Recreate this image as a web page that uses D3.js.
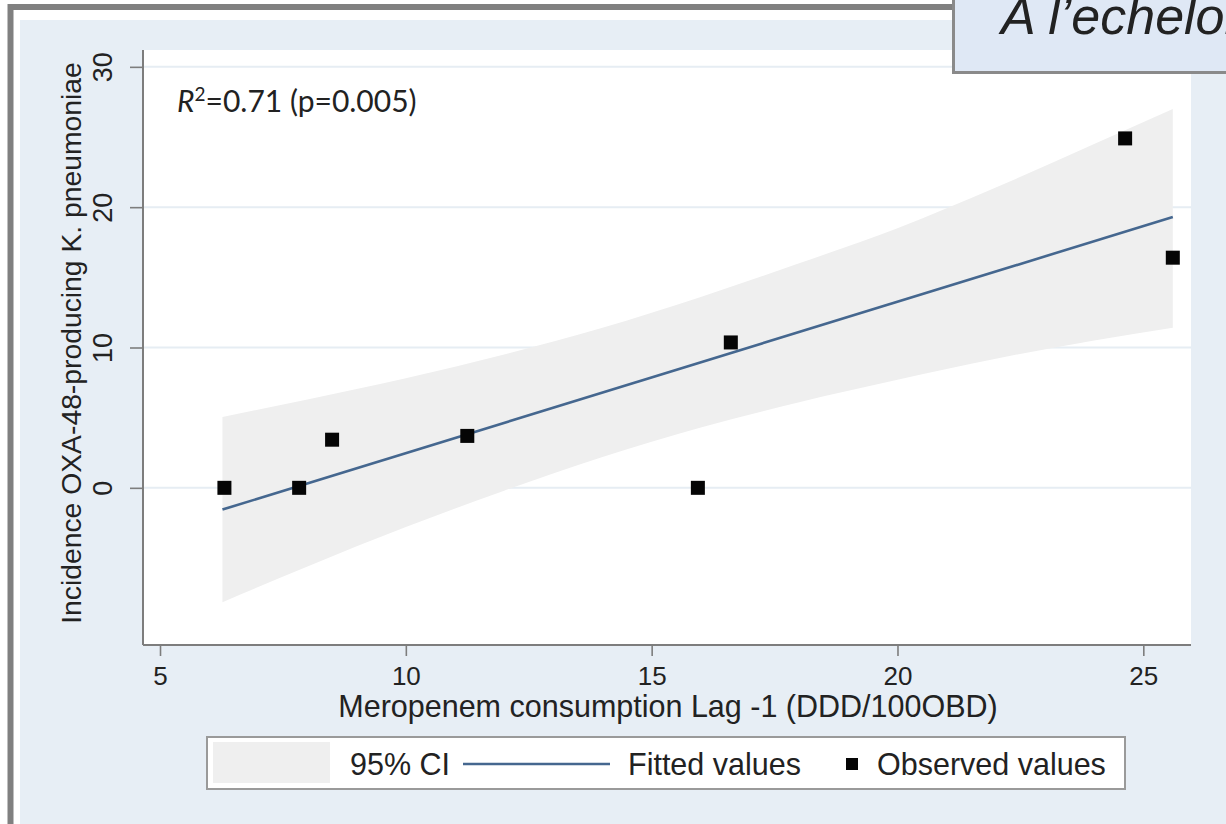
<!DOCTYPE html>
<html>
<head>
<meta charset="utf-8">
<script src="https://cdn.jsdelivr.net/npm/d3@7"></script>
<style>
  html, body { margin: 0; padding: 0; background: #ffffff; }
  svg { display: block; }
  text { font-family: "Liberation Sans", Arial, Helvetica, sans-serif; fill: #222222; }
</style>
</head>
<body>
<svg id="chart" width="1226" height="824"></svg>
<script>
// Observed values: meropenem consumption (lag -1) vs incidence
const consumption = [6.31, 7.83, 8.50, 11.25, 15.94, 16.61, 24.63, 25.60];
const incidence   = [0.0, 0.0, 3.43, 3.70, 0.0, 10.36, 24.9, 16.4];

// Fitted regression line (end points over the observed range)
const fitX = [6.27, 25.60];
const fitY = [-1.55, 19.30];

// 95% confidence band of the fit
const bandX     = [6.27, 8, 10, 12, 14, 16, 18, 20, 22, 24, 25.60];
const bandUpper = [5.05, 6.3, 7.8, 9.5, 11.4, 13.6, 16.0, 18.5, 21.4, 24.5, 27.0];
const bandLower = [-8.15, -5.6, -2.8, -0.2, 2.2, 4.3, 6.1, 7.7, 9.2, 10.5, 11.4];

// Axis ticks and labels
const xTicks = [5, 10, 15, 20, 25];
const yTicks = [0, 10, 20, 30];
const xTitle = "Meropenem consumption Lag -1 (DDD/100OBD)";
const yTitle = "Incidence OXA-48-producing K. pneumoniae";
const legendLabels = ["95% CI", "Fitted values", "Observed values"];
const headerText = "A l\u2019echelon";

const svg = d3.select("#chart");

// Slide frame and graph region
svg.append("rect").attr("x", 10.5).attr("y", 7).attr("width", 1300).attr("height", 900)
  .attr("fill", "#ffffff").attr("stroke", "#808080").attr("stroke-width", 6);
svg.append("rect").attr("x", 20).attr("y", 20).attr("width", 1230).attr("height", 820)
  .attr("fill", "#e7eef5");

// Plot region
const plot = { left: 143, right: 1191, top: 50, bottom: 645 };
svg.append("rect").attr("x", plot.left).attr("y", plot.top)
  .attr("width", plot.right - plot.left).attr("height", plot.bottom - plot.top)
  .attr("fill", "#ffffff");

const x = d3.scaleLinear().domain([4.654, 25.97]).range([plot.left, plot.right]);
const y = d3.scaleLinear().domain([-11.2, 31.2]).range([plot.bottom, plot.top]);

// Gridlines
svg.append("g").selectAll("line").data(yTicks).join("line")
  .attr("x1", plot.left).attr("x2", plot.right)
  .attr("y1", d => y(d)).attr("y2", d => y(d))
  .attr("stroke", "#e6edf3").attr("stroke-width", 2);

// Confidence band
const band = bandX.map((v, i) => ({ x: v, lo: bandLower[i], hi: bandUpper[i] }));
svg.append("path").datum(band)
  .attr("d", d3.area().curve(d3.curveMonotoneX)
    .x(d => x(d.x)).y0(d => y(d.lo)).y1(d => y(d.hi)))
  .attr("fill", "#efefef");

// Fitted line
svg.append("path").datum(fitX.map((v, i) => [v, fitY[i]]))
  .attr("d", d3.line().x(d => x(d[0])).y(d => y(d[1])))
  .attr("fill", "none").attr("stroke", "#45678f").attr("stroke-width", 2.6);

// Observed points
const sq = 14;
svg.append("g").selectAll("rect").data(consumption.map((v, i) => [v, incidence[i]])).join("rect")
  .attr("x", d => x(d[0]) - sq / 2).attr("y", d => y(d[1]) - sq / 2)
  .attr("width", sq).attr("height", sq).attr("fill", "#050505");

// Y axis
const yAxis = svg.append("g").attr("transform", `translate(${plot.left},0)`)
  .call(d3.axisLeft(y).tickValues(yTicks).tickSize(13).tickSizeOuter(0));
yAxis.select(".domain").attr("d", `M0,${plot.top}V${plot.bottom}`)
  .attr("stroke", "#7d7d7d").attr("stroke-width", 2);
yAxis.selectAll(".tick line").attr("stroke", "#7d7d7d").attr("stroke-width", 1.6);
yAxis.selectAll(".tick text")
  .attr("transform", "rotate(-90)").attr("x", 0).attr("y", -31).attr("dy", 0)
  .attr("text-anchor", "middle").style("font-size", "27px")
  .style("font-family", "'Liberation Sans', Arial, sans-serif").attr("fill", "#222");

// X axis
const xAxis = svg.append("g").attr("transform", `translate(0,${plot.bottom})`)
  .call(d3.axisBottom(x).tickValues(xTicks).tickSize(11).tickSizeOuter(0));
xAxis.select(".domain").attr("d", `M${plot.left},0H${plot.right}`)
  .attr("stroke", "#7d7d7d").attr("stroke-width", 2);
xAxis.selectAll(".tick line").attr("stroke", "#7d7d7d").attr("stroke-width", 1.6);
xAxis.selectAll(".tick text")
  .attr("y", 40).attr("dy", 0).style("font-size", "26px")
  .style("font-family", "'Liberation Sans', Arial, sans-serif").attr("fill", "#222");

// Axis titles
svg.append("text").attr("x", 668).attr("y", 717).attr("text-anchor", "middle")
  .style("font-size", "30.5px").text(xTitle);
svg.append("text").attr("transform", "translate(81,343) rotate(-90)")
  .attr("text-anchor", "middle").style("font-size", "28.3px").text(yTitle);

// Fit statistics
const stat = svg.append("text").attr("x", 177).attr("y", 112)
  .style("font-family", "Lato, 'Open Sans', sans-serif").style("font-size", "30px").attr("fill", "#1e1e1e");
stat.append("tspan").style("font-style", "italic").text("R");
stat.append("tspan").attr("dy", -11).style("font-size", "19px").text("2");
stat.append("tspan").attr("dy", 11).text("=0.71 (p=0.005)");

// Legend
const lg = svg.append("g");
lg.append("rect").attr("x", 207).attr("y", 737).attr("width", 918).attr("height", 52)
  .attr("fill", "#ffffff").attr("stroke", "#9a9a9a").attr("stroke-width", 2);
lg.append("rect").attr("x", 213).attr("y", 742).attr("width", 117).attr("height", 41)
  .attr("fill", "#efefef");
lg.append("line").attr("x1", 463).attr("x2", 610).attr("y1", 764).attr("y2", 764)
  .attr("stroke", "#45678f").attr("stroke-width", 2.6);
lg.append("rect").attr("x", 846).attr("y", 758).attr("width", 12).attr("height", 12)
  .attr("fill", "#050505");
const legendX = [350, 628, 877];
lg.selectAll("text.lab").data(legendLabels).join("text").attr("class", "lab")
  .attr("x", (d, i) => legendX[i]).attr("y", 775)
  .style("font-size", "30.5px").text(d => d);

// Slide header box
svg.append("rect").attr("x", 953.5).attr("y", -10).attr("width", 300).attr("height", 82.5)
  .attr("fill", "#dfe8f5").attr("stroke", "#8a8a8a").attr("stroke-width", 3);
svg.append("text").attr("x", 1001).attr("y", 34)
  .style("font-size", "52px").style("font-style", "italic").attr("fill", "#1c1c8e")
  .text(headerText);
</script>
</body>
</html>
